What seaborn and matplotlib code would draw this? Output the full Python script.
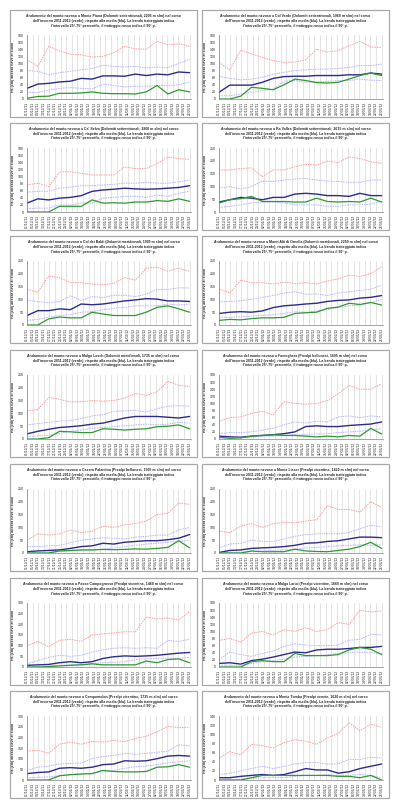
import numpy as np
import pandas as pd
import matplotlib
matplotlib.use('Agg')
import matplotlib.pyplot as plt
import matplotlib.dates as mdates
from matplotlib.patches import Rectangle
import seaborn as sns

# Stations (name, area, elevation) and y-axis range
stations = [
    ('Monte Piana', 'Dolomiti settentrionali', 2205),
    ('Col Verde', 'Dolomiti settentrionali', 1960),
    ("Ca' Selva", 'Dolomiti settentrionali', 1800),
    ('Ra Valles', 'Dolomiti settentrionali', 2615),
    ('Col dei Baldi', 'Dolomiti meridionali', 1900),
    ('Monti Alti di Ornella', 'Dolomiti meridionali', 2250),
    ('Malga Losch', 'Dolomiti meridionali', 1735),
    ('Faverghera', 'Prealpi bellunesi', 1605),
    ('Casera Palantina', 'Prealpi bellunesi', 1505),
    ('Monte Lisser', 'Prealpi vicentine', 1420),
    ('Passo Campogrosso', 'Prealpi vicentine', 1460),
    ('Malga Larici', 'Prealpi vicentine', 1660),
    ('Campomolon', 'Prealpi vicentine', 1735),
    ('Monte Tomba', 'Prealpi venete', 1620),
]
y_max = [180, 180, 180, 250, 250, 250, 250, 180, 250, 250, 300, 180, 300, 140]
y_step = [20, 20, 20, 50, 50, 50, 50, 20, 50, 50, 50, 20, 50, 20]

tick_dates = pd.date_range('2011-12-01', periods=30, freq='4D')

# series: 90th perc, 75th perc, median, 25th perc, winter 2011-12 (cm)
piana_p90 = [110, 92, 148, 135, 126, 124, 118, 120, 130, 148, 141, 140, 162, 152, 155, 148]
piana_p75 = [80, 78, 68, 74, 78, 82, 86, 95, 92, 90, 92, 88, 90, 88, 100, 112]
piana_med = [30, 42, 44, 48, 50, 58, 56, 65, 65, 64, 70, 66, 70, 68, 76, 74]
piana_p25 = [19, 18, 25, 30, 32, 30, 28, 42, 38, 34, 36, 36, 38, 38, 40, 48]
piana_cur = [2, 7, 8, 16, 16, 17, 20, 16, 15, 15, 14, 20, 38, 14, 26, 20]

colverde_p90 = [103, 82, 138, 127, 117, 108, 103, 104, 110, 140, 132, 136, 150, 162, 146, 145]
colverde_p75 = [64, 58, 54, 56, 61, 70, 75, 80, 82, 84, 84, 86, 89, 94, 94, 98]
colverde_med = [19, 39, 39, 39, 47, 58, 63, 64, 64, 66, 66, 66, 68, 68, 73, 70]
colverde_p25 = [9, 9, 14, 19, 23, 28, 50, 52, 47, 49, 49, 52, 52, 56, 53, 52]
colverde_cur = [0, 0, 8, 33, 30, 26, 40, 56, 52, 46, 45, 47, 56, 66, 73, 66]

selva_p90 = [76, 81, 71, 113, 113, 109, 104, 104, 104, 127, 122, 122, 136, 155, 150, 148]
selva_p75 = [56, 58, 59, 67, 70, 74, 74, 76, 78, 81, 81, 84, 81, 81, 85, 90]
selva_med = [25, 37, 34, 39, 41, 46, 58, 62, 64, 67, 65, 64, 65, 67, 69, 74]
selva_p25 = [9, 11, 11, 20, 20, 25, 25, 39, 41, 44, 44, 41, 48, 44, 53, 58]
selva_cur = [0, 0, 0, 16, 16, 16, 34, 25, 26, 25, 28, 28, 32, 30, 37, 30]

valles_p90 = [164, 164, 170, 172, 138, 164, 164, 177, 186, 183, 199, 193, 215, 209, 196, 190]
valles_p75 = [93, 99, 90, 99, 121, 119, 125, 129, 131, 125, 121, 119, 116, 116, 125, 125]
valles_med = [39, 48, 57, 54, 48, 57, 57, 70, 73, 70, 64, 64, 61, 73, 64, 64]
valles_p25 = [18, 22, 28, 35, 39, 39, 35, 28, 28, 28, 22, 22, 28, 28, 31, 41]
valles_cur = [35, 48, 52, 61, 41, 41, 41, 39, 39, 54, 41, 39, 41, 39, 54, 39]

baldi_p90 = [139, 128, 192, 184, 166, 165, 160, 158, 162, 185, 175, 222, 226, 210, 222, 209]
baldi_p75 = [98, 91, 88, 91, 114, 96, 111, 107, 116, 116, 111, 120, 139, 139, 145, 145]
baldi_med = [37, 56, 56, 63, 60, 82, 79, 82, 88, 94, 98, 103, 101, 94, 94, 92]
baldi_p25 = [18, 22, 31, 37, 40, 50, 52, 60, 65, 69, 75, 75, 75, 82, 78, 82]
baldi_cur = [0, 0, 24, 31, 28, 28, 50, 43, 37, 37, 37, 50, 69, 75, 63, 50]

ornella_p90 = [140, 125, 175, 165, 165, 160, 168, 162, 165, 160, 172, 180, 195, 190, 200, 228]
ornella_p75 = [90, 92, 95, 100, 108, 115, 125, 130, 120, 122, 115, 125, 130, 135, 140, 155]
ornella_med = [45, 50, 52, 50, 55, 68, 75, 78, 82, 85, 92, 96, 98, 105, 108, 115]
ornella_p25 = [30, 30, 32, 35, 38, 40, 45, 52, 50, 55, 60, 68, 75, 78, 88, 100]
ornella_cur = [18, 22, 20, 25, 28, 28, 30, 45, 48, 50, 65, 70, 85, 80, 88, 78]

losch_p90 = [110, 115, 162, 155, 145, 145, 150, 148, 150, 160, 178, 170, 185, 225, 210, 205]
losch_p75 = [55, 60, 65, 70, 72, 80, 90, 95, 108, 110, 112, 105, 118, 128, 130, 128]
losch_med = [20, 30, 38, 45, 48, 52, 58, 62, 72, 82, 88, 88, 88, 85, 82, 88]
losch_p25 = [10, 12, 15, 22, 30, 35, 42, 45, 48, 52, 55, 58, 55, 58, 65, 62]
losch_cur = [0, 0, 5, 30, 28, 25, 25, 40, 38, 35, 38, 40, 48, 50, 55, 40]

faverghera_p90 = [50, 60, 62, 72, 78, 68, 105, 100, 98, 100, 108, 128, 150, 140, 140, 155]
faverghera_p75 = [15, 18, 18, 20, 25, 30, 40, 48, 45, 50, 48, 62, 65, 60, 65, 62]
faverghera_med = [8, 6, 5, 8, 10, 12, 15, 20, 35, 37, 35, 35, 38, 40, 42, 48]
faverghera_p25 = [3, 3, 4, 5, 8, 8, 10, 12, 12, 14, 15, 18, 20, 22, 25, 30]
faverghera_cur = [5, 2, 3, 8, 10, 12, 10, 10, 8, 6, 8, 6, 10, 8, 30, 14]

palantina_p90 = [50, 75, 70, 75, 90, 80, 85, 105, 100, 110, 115, 125, 150, 155, 195, 190]
palantina_p75 = [25, 25, 28, 30, 40, 50, 55, 60, 58, 55, 62, 65, 70, 70, 90, 100]
palantina_med = [5, 8, 10, 12, 18, 25, 28, 38, 35, 42, 45, 48, 48, 52, 58, 72]
palantina_p25 = [2, 3, 4, 5, 8, 10, 12, 15, 20, 25, 30, 35, 38, 42, 45, 50]
palantina_cur = [0, 0, 0, 8, 10, 12, 12, 14, 13, 14, 16, 15, 18, 22, 48, 20]

lisser_p90 = [85, 80, 105, 115, 100, 115, 120, 118, 125, 130, 185, 170, 170, 160, 200, 178]
lisser_p75 = [20, 35, 38, 50, 45, 45, 55, 65, 72, 75, 75, 75, 80, 95, 108, 102]
lisser_med = [2, 10, 12, 18, 20, 22, 25, 30, 38, 40, 45, 48, 55, 62, 62, 60]
lisser_p25 = [0, 2, 3, 5, 8, 10, 12, 15, 20, 22, 25, 28, 30, 32, 30, 32]
lisser_cur = [0, 0, 0, 8, 5, 5, 5, 15, 8, 6, 5, 10, 15, 25, 42, 18]

campogrosso_p90 = [100, 120, 95, 125, 130, 120, 150, 155, 160, 165, 165, 235, 225, 230, 220, 260]
campogrosso_p75 = [15, 30, 45, 55, 50, 55, 70, 80, 88, 90, 88, 90, 88, 125, 120, 130]
campogrosso_med = [8, 10, 12, 20, 25, 20, 25, 40, 48, 52, 50, 52, 55, 60, 65, 68]
campogrosso_p25 = [2, 3, 5, 8, 10, 12, 15, 20, 22, 25, 35, 38, 40, 42, 40, 45]
campogrosso_cur = [0, 0, 2, 5, 8, 10, 15, 10, 10, 10, 10, 28, 20, 35, 38, 20]

larici_p90 = [75, 80, 70, 95, 100, 90, 105, 100, 110, 100, 105, 125, 120, 160, 155, 158]
larici_p75 = [20, 42, 35, 30, 38, 45, 58, 65, 62, 60, 60, 62, 75, 78, 92, 90]
larici_med = [10, 12, 8, 18, 22, 28, 35, 42, 40, 48, 50, 50, 52, 55, 55, 58]
larici_p25 = [5, 5, 5, 10, 15, 18, 22, 28, 30, 32, 35, 38, 40, 42, 40, 38]
larici_cur = [0, 0, 0, 15, 18, 15, 15, 38, 32, 32, 32, 35, 48, 55, 50, 35]

campomolon_p90 = [135, 140, 125, 168, 178, 168, 180, 178, 185, 180, 195, 205, 225, 252, 245, 248]
campomolon_p75 = [45, 60, 65, 75, 78, 80, 100, 110, 115, 125, 120, 125, 130, 135, 165, 160]
campomolon_med = [30, 35, 38, 55, 58, 55, 60, 72, 75, 90, 88, 90, 100, 112, 115, 112]
campomolon_p25 = [10, 12, 15, 20, 25, 28, 32, 38, 45, 55, 62, 65, 72, 80, 85, 90]
campomolon_cur = [0, 0, 0, 20, 25, 28, 30, 45, 40, 38, 38, 40, 60, 62, 72, 60]

tomba_p90 = [48, 62, 55, 78, 75, 70, 82, 88, 85, 78, 92, 102, 125, 108, 122, 115]
tomba_p75 = [12, 15, 20, 25, 30, 25, 30, 35, 38, 38, 35, 35, 45, 45, 50, 48]
tomba_med = [5, 5, 8, 10, 12, 10, 12, 18, 25, 22, 22, 15, 18, 25, 30, 35]
tomba_p25 = [0, 0, 2, 3, 5, 5, 5, 8, 10, 10, 12, 10, 10, 12, 10, 5]
tomba_cur = [0, 0, 0, 5, 10, 10, 10, 10, 10, 10, 10, 8, 8, 5, 10, 0]

series = [
    (piana_p90, piana_p75, piana_med, piana_p25, piana_cur),
    (colverde_p90, colverde_p75, colverde_med, colverde_p25, colverde_cur),
    (selva_p90, selva_p75, selva_med, selva_p25, selva_cur),
    (valles_p90, valles_p75, valles_med, valles_p25, valles_cur),
    (baldi_p90, baldi_p75, baldi_med, baldi_p25, baldi_cur),
    (ornella_p90, ornella_p75, ornella_med, ornella_p25, ornella_cur),
    (losch_p90, losch_p75, losch_med, losch_p25, losch_cur),
    (faverghera_p90, faverghera_p75, faverghera_med, faverghera_p25, faverghera_cur),
    (palantina_p90, palantina_p75, palantina_med, palantina_p25, palantina_cur),
    (lisser_p90, lisser_p75, lisser_med, lisser_p25, lisser_cur),
    (campogrosso_p90, campogrosso_p75, campogrosso_med, campogrosso_p25, campogrosso_cur),
    (larici_p90, larici_p75, larici_med, larici_p25, larici_cur),
    (campomolon_p90, campomolon_p75, campomolon_med, campomolon_p25, campomolon_cur),
    (tomba_p90, tomba_p75, tomba_med, tomba_p25, tomba_cur),
]

sns.set_theme(style='white')
plt.rcParams['font.family'] = ['Liberation Sans', 'DejaVu Sans']

# line styles: p90, p75, median, p25, current winter
styles = [
    dict(color='#ff9a9a', linestyle=(0, (1.5, 1)), linewidth=0.7),
    dict(color='#b3b3ff', linestyle=(0, (1.5, 1)), linewidth=0.7),
    dict(color='#2b2b8f', linestyle='-', linewidth=1.0),
    dict(color='#b3b3ff', linestyle=(0, (1.5, 1)), linewidth=0.7),
    dict(color='#2e9a2e', linestyle='-', linewidth=0.9),
]

W, H = 400, 811
row_tops = [10, 123, 236, 350, 464, 578, 691]
col_lefts = [10, 202]
box_w, box_h = 187, 107

fig = plt.figure(figsize=(W / 100, H / 100), dpi=100)
dates = pd.date_range(tick_dates[0], tick_dates[-1], periods=16)

for k, (name, area, elev) in enumerate(stations):
    r, c = divmod(k, 2)
    left, top = col_lefts[c], row_tops[r]

    # chart area border
    fig.patches.append(Rectangle((left / W, 1 - (top + box_h) / H), box_w / W, box_h / H,
                                 transform=fig.transFigure, fill=False,
                                 edgecolor='#a8a8a8', linewidth=0.9))

    title = (f"Andamento del manto nevoso a {name} ({area}, {elev} m slm) nel corso\n"
             f"dell'inverno 2011-2012 (verde), rispetto alla media (blu). La banda tratteggiata indica\n"
             f"l'intervallo 25°-75° percentile, il tratteggio rosso indica il 90° p.")
    fig.text((left + box_w / 2) / W, 1 - (top + 4) / H, title, ha='center', va='top',
             fontsize=2.5, fontweight='bold', linespacing=1.25)

    ax = fig.add_axes([(left + 17) / W, 1 - (top + 89) / H, 164 / W, 64 / H])
    for vals, st in zip(series[k], styles):
        sns.lineplot(x=dates, y=vals, ax=ax, **st)

    ax.set_xlim(tick_dates[0], tick_dates[-1] + pd.Timedelta(days=1))
    ax.set_ylim(0, y_max[k])
    ax.set_yticks(np.arange(0, y_max[k] + 1, y_step[k]))
    ax.set_xticks(tick_dates)
    ax.xaxis.set_major_formatter(mdates.DateFormatter('%d/%m/%y'))
    ax.tick_params(axis='x', labelrotation=90, labelsize=2.4, length=1, width=0.4, pad=1)
    ax.tick_params(axis='y', labelsize=2.6, length=1, width=0.4, pad=1)
    ax.grid(axis='x', color='#d9d9d9', linewidth=0.5)
    ax.set_xlabel('')
    ax.set_ylabel('Hs (cm) altezza neve al suolo', fontsize=2.6, fontweight='bold', labelpad=2)
    for s in ['top', 'right']:
        ax.spines[s].set_visible(False)
    for s in ['left', 'bottom']:
        ax.spines[s].set_color('#808080')
        ax.spines[s].set_linewidth(0.5)

fig.savefig('out.png', dpi=100, facecolor='white')
